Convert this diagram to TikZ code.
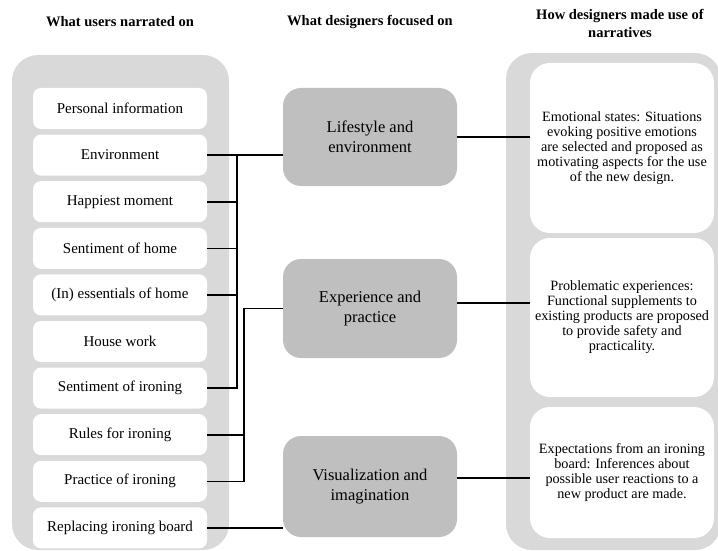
\documentclass[tikz,border=0pt]{standalone}
\usepackage{fontspec}
\setmainfont{Liberation Serif}
\usetikzlibrary{calc}

\definecolor{panelgrey}{HTML}{D9D9D9}
\definecolor{focusgrey}{HTML}{BFBFBF}

\tikzset{
    panel/.style = {fill=panelgrey, rounded corners=26pt},
    itembox/.style = {fill=white, rounded corners=8pt, minimum width=174pt, minimum height=41pt,
        font=\fontsize{15}{17.5}\selectfont},
    focusbox/.style = {fill=focusgrey, rounded corners=18pt, minimum width=174pt, align=center,
        font=\fontsize{16.5}{19.5}\selectfont},
    usebox/.style = {fill=white, rounded corners=20pt, minimum width=184pt, align=center,
        font=\fontsize{14.2}{15}\selectfont},
    heading/.style = {align=center, font=\bfseries\fontsize{14.5}{18}\selectfont},
    link/.style = {line width=1.6pt}
}

\begin{document}
\begin{tikzpicture}[x=1pt, y=-1pt]
    \useasboundingbox (0,0) rectangle (718,551);

    %column headings
        \node[heading] (h1) at (120,22) {What users narrated on};
        \node[heading] (h2) at (370,22) {What designers focused on};
        \node[heading] (h3) at (620,23) {How designers made use of\\narratives};

    %grey panels
        \fill[panel] (12,55) rectangle (229,550);
        \fill[panel] (506,53) rectangle (721,550);

    %what users narrated on
        \foreach \txt [count=\i] in {Personal information, Environment, Happiest moment,
            Sentiment of home, (In) essentials of home, House work, Sentiment of ironing,
            Rules for ironing, Practice of ironing, Replacing ironing board}
            \node[itembox] (u\i) at (120,{108.5+46.6*(\i-1)}) {\txt};

    %what designers focused on
        \node[focusbox, minimum height=98pt] (d1) at (370,137) {Lifestyle and\\environment};
        \node[focusbox, minimum height=99pt] (d2) at (370,308.5) {Experience and\\practice};
        \node[focusbox, minimum height=101pt] (d3) at (370,486.5) {Visualization and\\imagination};

    %how designers made use of narratives
        \node[usebox, minimum height=170pt] (r1) at (622,148) {Emotional states: Situations\\evoking positive emotions\\are selected and proposed as\\motivating aspects for the use\\of the new design.};
        \node[usebox, minimum height=159pt] (r2) at (622,317.5) {Problematic experiences:\\Functional supplements to\\existing products are proposed\\to provide safety and\\practicality.};
        \node[usebox, minimum height=131pt] (r3) at (622,472.5) {Expectations from an ironing\\board: Inferences about\\possible user reactions to a\\new product are made.};

    %joints of the brackets
        \coordinate (j1) at (237,0);
        \coordinate (j2) at (244,0);

    %links to lifestyle and environment
        \draw[link] (u2.east) -- (u2.east -| d1.west);
        \draw[link] (u2.east -| j1) -- (u7.east -| j1) -- (u7.east);
        \draw[link] (u3.east) -- (u3.east -| j1);
        \draw[link] (u4.east) -- (u4.east -| j1);
        \draw[link] (u5.east) -- (u5.east -| j1);

    %links to experience and practice
        \draw[link] (d2.west) -- (d2.west -| j2) -- (u9.east -| j2) -- (u9.east);
        \draw[link] (u8.east) -- (u8.east -| j2);

    %link to visualization and imagination
        \draw[link] (u10.east) -- (u10.east -| d3.west);

    %links to the right column
        \draw[link] (d1.east) -- (d1.east -| r1.west);
        \draw[link] ([yshift=5.5pt]d2.east) -- ([yshift=5.5pt]d2.east -| r2.west);
        \draw[link] ([yshift=8.5pt]d3.east) -- ([yshift=8.5pt]d3.east -| r3.west);

\end{tikzpicture}
\end{document}
